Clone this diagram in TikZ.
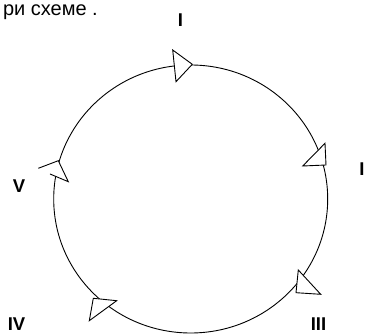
\documentclass[tikz,border=0pt]{standalone}
\usepackage{fontspec}
\setmainfont{Liberation Sans}
\begin{document}
\begin{tikzpicture}[x=1pt,y=-1pt,
  lbl/.style={font=\fontsize{18.5}{18.5}\selectfont\bfseries, inner sep=0pt, anchor=base},
  arrowtri/.style={draw=black, fill=white, line width=0.9pt, line join=miter},
  ring/.style={draw=black, line width=0.9pt}]
\useasboundingbox (0,0) rectangle (365,334);
% ring
\draw[ring] (190.7,199) ellipse [x radius=137, y radius=134];
% arrow triangles
\filldraw[arrowtri] (172.7,50) -- (192.3,64.3) -- (176,81.7) -- cycle;
\filldraw[arrowtri] (325,143.3) -- (326,165) -- (302.7,166) -- cycle;
\filldraw[arrowtri] (298.3,270) -- (296,292.7) -- (320.7,294.3) -- cycle;
\filldraw[arrowtri] (93.3,298.3) -- (116.7,300.7) -- (89.3,320.7) -- cycle;
\fill[white] (38.3,168.3) -- (58.3,160.7) -- (68.3,181.7) -- (50,174) -- cycle;
\draw[arrowtri] (38.3,168.3) -- (58.3,160.7) -- (68.3,181.7) -- (50,174);
% labels
\node[lbl] (l1) at (180.5,26.5) {I};
\node[lbl] (l2) at (362,175.5) {I};
\node[lbl] (l3) at (318.5,331) {III};
\node[lbl] (l4) at (16.5,331) {IV};
\node[lbl] (l5) at (19,192.5) {V};
\node[font=\fontsize{20}{20}\selectfont, inner sep=0pt, anchor=base east] (cap) at (98,15.5) {ри схеме .};
\end{tikzpicture}
\end{document}
